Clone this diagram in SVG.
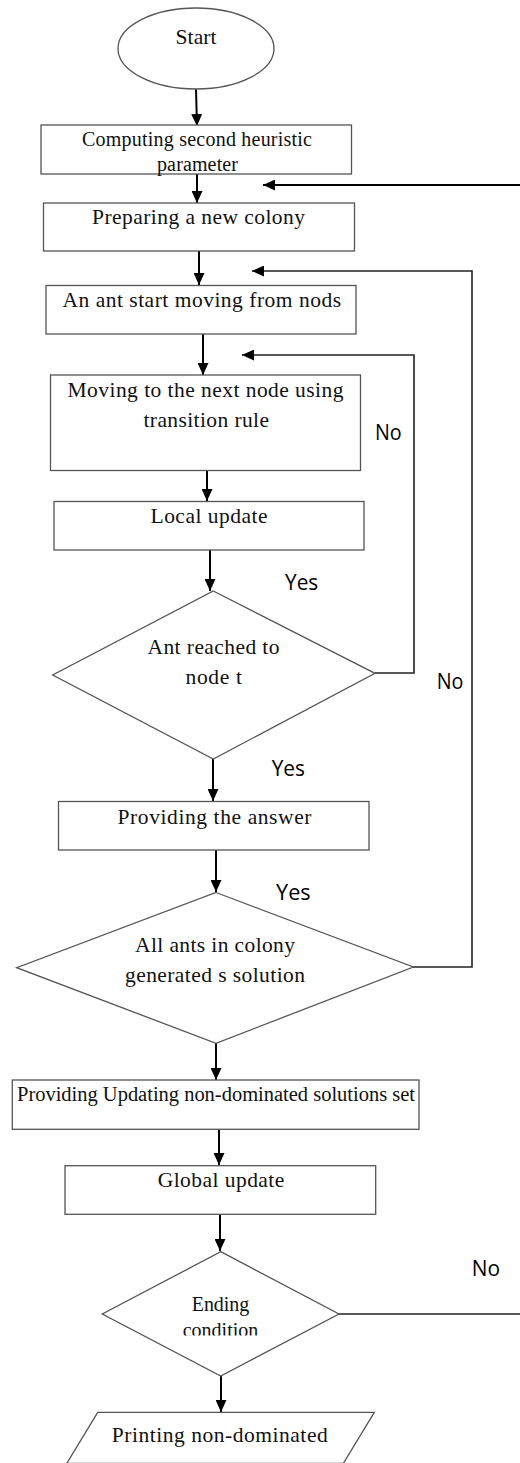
<svg xmlns="http://www.w3.org/2000/svg" width="520" height="1463" viewBox="0 0 520 1463">
<style>
.shape{fill:#fff;stroke:#555;stroke-width:1.3}
.t{font-family:"Liberation Serif","Times New Roman",serif;font-size:21.5px;fill:#111;text-anchor:start}
.s20{font-size:20px}
.lbl{font-family:"Open Sans","Liberation Sans",sans-serif;font-size:21px;fill:#000}
.conn{fill:none;stroke:#000;stroke-width:2}
.loop{fill:none;stroke:#222;stroke-width:1.6}
</style>
<defs>
<marker id="ah" markerUnits="userSpaceOnUse" markerWidth="12" markerHeight="11" refX="12" refY="5.5" orient="auto">
<path d="M0,0 L12,5.5 L0,11 z" fill="#000"/>
</marker>
<clipPath id="clipEnd"><rect x="0" y="1250" width="520" height="85.5"/></clipPath>
</defs>
<rect width="520" height="1463" fill="#fff"/>

<g id="connectors">
<line class="conn" x1="196" y1="89" x2="197" y2="126" marker-end="url(#ah)"/>
<line class="conn" x1="197" y1="174" x2="197" y2="203" marker-end="url(#ah)"/>
<line class="conn" x1="199" y1="251" x2="199" y2="285" marker-end="url(#ah)"/>
<line class="conn" x1="203" y1="334" x2="203" y2="375" marker-end="url(#ah)"/>
<line class="conn" x1="207" y1="471" x2="207" y2="501" marker-end="url(#ah)"/>
<line class="conn" x1="210" y1="550" x2="210" y2="591" marker-end="url(#ah)"/>
<line class="conn" x1="213" y1="759" x2="213" y2="801" marker-end="url(#ah)"/>
<line class="conn" x1="216" y1="850" x2="216" y2="892" marker-end="url(#ah)"/>
<line class="conn" x1="216" y1="1043" x2="216" y2="1080" marker-end="url(#ah)"/>
<line class="conn" x1="219" y1="1129" x2="219" y2="1165" marker-end="url(#ah)"/>
<line class="conn" x1="220" y1="1214" x2="220" y2="1251" marker-end="url(#ah)"/>
<line class="conn" x1="221" y1="1376" x2="221" y2="1412" marker-end="url(#ah)"/>
<line class="conn" x1="520" y1="185" x2="263" y2="185" marker-end="url(#ah)"/>
<polyline class="loop" points="413,967 472,967 472,271 252,271" marker-end="url(#ah)"/>
<polyline class="loop" points="375,673 414,673 414,355 242,355" marker-end="url(#ah)"/>
<line class="loop" x1="339" y1="1314" x2="520" y2="1314"/>
</g>

<g id="start">
<ellipse class="shape" cx="196" cy="48.5" rx="78" ry="40.5"/>
<text class="t" x="175.5" y="44" textLength="41" lengthAdjust="spacing">Start</text>
</g>

<g id="computing">
<rect class="shape" x="41" y="125" width="310.5" height="49"/>
<text class="t s20" x="82" y="145.5" textLength="230" lengthAdjust="spacing">Computing second heuristic</text>
<text class="t s20" x="157" y="170.5" textLength="81" lengthAdjust="spacing">parameter</text>
</g>

<g id="preparing">
<rect class="shape" x="43.5" y="203" width="311" height="48"/>
<text class="t" x="92" y="224" textLength="213" lengthAdjust="spacing">Preparing a new colony</text>
</g>

<g id="ant-start">
<rect class="shape" x="46" y="285.5" width="310" height="48.5"/>
<text class="t" x="62.5" y="307" textLength="278.5" lengthAdjust="spacing">An ant start moving from nods</text>
</g>

<g id="moving">
<rect class="shape" x="50.5" y="375" width="310" height="95.5"/>
<text class="t" x="67.5" y="396.5" textLength="276" lengthAdjust="spacing">Moving to the next node using</text>
<text class="t" x="143.5" y="426.5" textLength="125.5" lengthAdjust="spacing">transition rule</text>
</g>

<g id="local-update">
<rect class="shape" x="54" y="501.5" width="310" height="48.5"/>
<text class="t" x="150.5" y="523" textLength="117" lengthAdjust="spacing">Local update</text>
</g>

<g id="reached">
<polygon class="shape" points="213.3,591 375,673.3 213.3,759 52.7,675"/>
<text class="t" x="147.5" y="654" textLength="132" lengthAdjust="spacing">Ant reached to</text>
<text class="t" x="185.5" y="684" textLength="56.5" lengthAdjust="spacing">node t</text>
</g>

<g id="answer">
<rect class="shape" x="58.5" y="801.5" width="310.5" height="48.5"/>
<text class="t" x="117.5" y="824" textLength="194" lengthAdjust="spacing">Providing the answer</text>
</g>

<g id="all-ants">
<polygon class="shape" points="216,892.5 413.3,967 216,1043.3 16.7,967.7"/>
<text class="t" x="135" y="951.5" textLength="160" lengthAdjust="spacing">All ants in colony</text>
<text class="t" x="125" y="981.5" textLength="180" lengthAdjust="spacing">generated s solution</text>
</g>

<g id="updating">
<rect class="shape" x="12.3" y="1080" width="406.7" height="49.3"/>
<text class="t" style="font-size:20.5px" x="17" y="1100.5" textLength="398" lengthAdjust="spacing">Providing Updating non-dominated solutions set</text>
</g>

<g id="global-update">
<rect class="shape" x="65" y="1165.7" width="310.7" height="48.6"/>
<text class="t" x="157.7" y="1187.3" textLength="126.6" lengthAdjust="spacing">Global update</text>
</g>

<g id="ending">
<polygon class="shape" points="220.7,1251.7 339,1314 220.7,1376 102.3,1314"/>
<text class="t s20" x="191.7" y="1310.5" textLength="57.6" lengthAdjust="spacing">Ending</text>
<text class="t s20" x="182.7" y="1337" textLength="75.6" lengthAdjust="spacing" clip-path="url(#clipEnd)">condition</text>
</g>

<g id="printing">
<polygon class="shape" points="97.7,1412.3 374.3,1412.3 343.3,1463.5 66.7,1463.5"/>
<text class="t" x="111.7" y="1441.5" textLength="216" lengthAdjust="spacing">Printing non-dominated</text>
</g>

<g id="labels">
<text class="lbl" x="375" y="440" textLength="26.7" lengthAdjust="spacingAndGlyphs">No</text>
<text class="lbl" x="285" y="590" textLength="33.3" lengthAdjust="spacingAndGlyphs">Yes</text>
<text class="lbl" x="436.7" y="689" textLength="26.7" lengthAdjust="spacingAndGlyphs">No</text>
<text class="lbl" x="271.7" y="776" textLength="33.3" lengthAdjust="spacingAndGlyphs">Yes</text>
<text class="lbl" x="276" y="900" textLength="34.7" lengthAdjust="spacingAndGlyphs">Yes</text>
<text class="lbl" x="471.7" y="1276" textLength="28.3" lengthAdjust="spacingAndGlyphs">No</text>
</g>
</svg>
